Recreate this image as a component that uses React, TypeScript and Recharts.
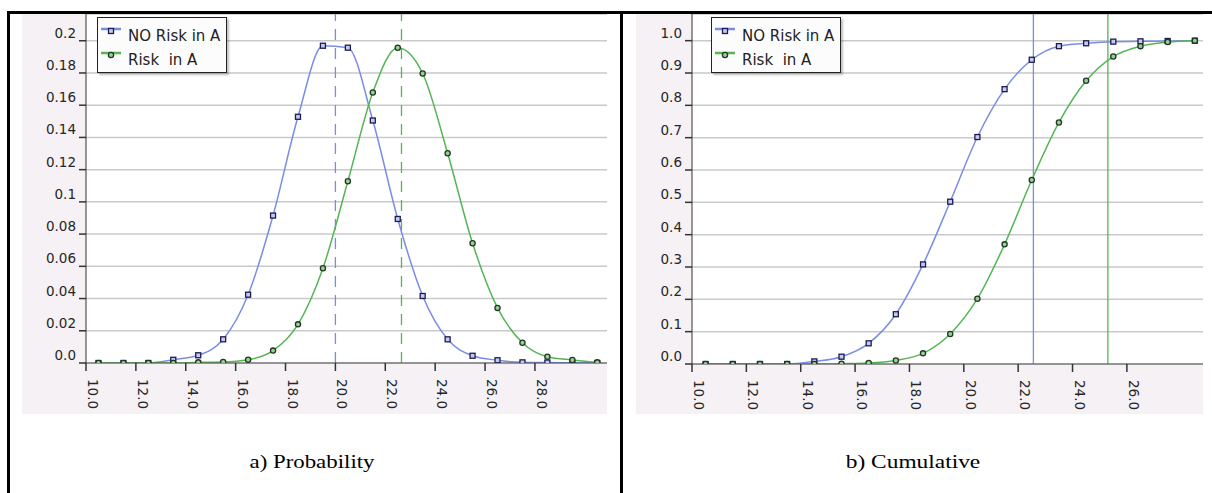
import React from 'react';
import {
  LineChart, Line, XAxis, YAxis, CartesianGrid, ReferenceLine, Legend,
} from 'recharts';

// a) probability per bucket
const probX = [10.5, 11.5, 12.5, 13.5, 14.5, 15.5, 16.5, 17.5, 18.5, 19.5, 20.5, 21.5, 22.5, 23.5, 24.5, 25.5, 26.5, 27.5, 28.5, 29.5, 30.5];
const probNoRisk = [0, 0, 0, 0.002, 0.0048, 0.0147, 0.0424, 0.0915, 0.1528, 0.1969, 0.1957, 0.1505, 0.0894, 0.0416, 0.0147, 0.0045, 0.0017, 0.0004, 0.0003, 0.0001, 0];
const probRisk = [0, 0, 0, 0, 0.0004, 0.0006, 0.002, 0.0077, 0.024, 0.0588, 0.1128, 0.1679, 0.1957, 0.1797, 0.1302, 0.0743, 0.0342, 0.0126, 0.0039, 0.0019, 0.0004];
const probMarks = [20.0, 22.65];

// b) cumulative
const cumX = [10.5, 11.5, 12.5, 13.5, 14.5, 15.5, 16.5, 17.5, 18.5, 19.5, 20.5, 21.5, 22.5, 23.5, 24.5, 25.5, 26.5, 27.5, 28.5];
const cumNoRisk = [0, 0, 0, 0, 0.008, 0.0226, 0.064, 0.154, 0.308, 0.502, 0.702, 0.85, 0.941, 0.983, 0.992, 0.997, 0.998, 0.999, 1.0];
const cumRisk = [0, 0, 0, 0, 0, 0.001, 0.003, 0.011, 0.033, 0.093, 0.202, 0.37, 0.569, 0.747, 0.876, 0.951, 0.983, 0.996, 1.0];
const cumMarks = [22.56, 25.3];

// ticks
const probXTicks = [10, 12, 14, 16, 18, 20, 22, 24, 26, 28];
const probXLabels = ['10.0', '12.0', '14.0', '16.0', '18.0', '20.0', '22.0', '24.0', '26.0', '28.0'];
const probYTicks = [0, 0.02, 0.04, 0.06, 0.08, 0.1, 0.12, 0.14, 0.16, 0.18, 0.2];
const probYLabels = ['0.0', '0.02', '0.04', '0.06', '0.08', '0.1', '0.12', '0.14', '0.16', '0.18', '0.2'];
const cumXTicks = [10, 12, 14, 16, 18, 20, 22, 24, 26];
const cumXLabels = ['10.0', '12.0', '14.0', '16.0', '18.0', '20.0', '22.0', '24.0', '26.0'];
const cumYTicks = [0, 0.1, 0.2, 0.3, 0.4, 0.5, 0.6, 0.7, 0.8, 0.9, 1.0];
const cumYLabels = ['0.0', '0.1', '0.2', '0.3', '0.4', '0.5', '0.6', '0.7', '0.8', '0.9', '1.0'];

const seriesNames = ['NO Risk in A', 'Risk  in A'];
const captions = ['a) Probability', 'b) Cumulative'];

const BLUE = '#7b8ce6';
const GREEN = '#55b555';
const PANEL_BG = '#f5f1f5';
const FONT = '"DejaVu Sans", Verdana, sans-serif';
const TICK_COLOR = '#262626';

const SquareDot = (props: any) => {
  const { cx, cy } = props;
  if (cx == null || cy == null) return null;
  return <rect x={cx - 2.5} y={cy - 2.5} width={5} height={5} fill="#c4caf2" stroke="#1c1c4e" strokeWidth={1.3} />;
};

const RoundDot = (props: any) => {
  const { cx, cy } = props;
  if (cx == null || cy == null) return null;
  return <circle cx={cx} cy={cy} r={2.6} fill="#9ccc9c" stroke="#1e3a1e" strokeWidth={1.3} />;
};

const XTick = (props: any) => {
  const { x, y, payload, ticks, labels } = props;
  const label = labels[ticks.indexOf(payload.value)];
  return (
    <g transform={`translate(${x},${y})`}>
      <text transform="rotate(90)" x={6} y={-2} fill={TICK_COLOR} fontSize={13.5} fontFamily={FONT} textAnchor="start">
        {label}
      </text>
    </g>
  );
};

const YTick = (props: any) => {
  const { x, y, payload, ticks, labels } = props;
  const label = labels[ticks.indexOf(payload.value)];
  return (
    <text x={x - 1} y={y - 3} fill={TICK_COLOR} fontSize={13.5} fontFamily={FONT} textAnchor="end">
      {label}
    </text>
  );
};

const LegendBox = () => (
  <div style={{
    width: 130, height: 56, boxSizing: 'border-box', border: '1px solid #222',
    background: '#fcfcfc', boxShadow: '2px 2px 2px rgba(0,0,0,0.25)',
  }}>
    <svg width={128} height={54} style={{ display: 'block' }}>
      <line x1={3} y1={11} x2={23} y2={11} stroke={BLUE} strokeWidth={2.5} />
      <SquareDot cx={13} cy={13} />
      <text x={30} y={23} fontSize={15} fontFamily={FONT} fill="#222" style={{ whiteSpace: 'pre' }}>{seriesNames[0]}</text>
      <line x1={3} y1={35} x2={23} y2={35} stroke={GREEN} strokeWidth={2.5} />
      <RoundDot cx={13} cy={37} />
      <text x={30} y={47} fontSize={15} fontFamily={FONT} fill="#222" style={{ whiteSpace: 'pre' }}>{seriesNames[1]}</text>
    </svg>
  </div>
);

interface PanelProps {
  left: number;
  width: number;
  yAxisWidth: number;
  xAxisHeight: number;
  xs: number[];
  a: number[];
  b: number[];
  xDomain: [number, number];
  yDomain: [number, number];
  xTicks: number[];
  xLabels: string[];
  yTicks: number[];
  yLabels: string[];
  marks: number[];
  dashed: boolean;
}

const Panel: React.FC<PanelProps> = (p) => {
  const data = p.xs.map((x, i) => ({ x, noRisk: p.a[i], risk: p.b[i] }));
  return (
    <div style={{ position: 'absolute', left: p.left, top: 14, width: p.width, height: 400, background: PANEL_BG }}>
      <LineChart width={p.width} height={400} data={data} margin={{ top: 0, right: 0, bottom: 0, left: 0 }}>
        <CartesianGrid vertical={false} fill="#ffffff" stroke="#c9c9c9" strokeWidth={1.5} />
        <XAxis
          type="number"
          dataKey="x"
          domain={p.xDomain}
          allowDataOverflow
          ticks={p.xTicks}
          interval={0}
          height={p.xAxisHeight}
          tickSize={8}
          tickMargin={2}
          axisLine={{ stroke: '#555' }}
          tickLine={{ stroke: '#333', strokeWidth: 1.5 }}
          tick={<XTick ticks={p.xTicks} labels={p.xLabels} />}
        />
        <YAxis
          type="number"
          domain={p.yDomain}
          allowDataOverflow
          ticks={p.yTicks}
          interval={0}
          width={p.yAxisWidth}
          tickSize={7}
          tickMargin={2}
          axisLine={{ stroke: '#333' }}
          tickLine={{ stroke: '#333', strokeWidth: 1.5 }}
          tick={<YTick ticks={p.yTicks} labels={p.yLabels} />}
        />
        <ReferenceLine x={p.marks[0]} stroke={BLUE} strokeWidth={1.3} strokeDasharray={p.dashed ? '11 8' : undefined} />
        <ReferenceLine x={p.marks[1]} stroke={GREEN} strokeWidth={1.3} strokeDasharray={p.dashed ? '11 8' : undefined} />
        <Line type="monotone" dataKey="noRisk" name={seriesNames[0]} stroke={BLUE} strokeWidth={1.5} dot={<SquareDot />} activeDot={false} isAnimationActive={false} />
        <Line type="monotone" dataKey="risk" name={seriesNames[1]} stroke={GREEN} strokeWidth={1.5} dot={<RoundDot />} activeDot={false} isAnimationActive={false} />
        <Legend
          layout="horizontal"
          verticalAlign="middle"
          align="center"
          content={<LegendBox />}
          wrapperStyle={{ position: 'absolute', top: 3, left: 75, width: 'auto', height: 'auto' }}
        />
      </LineChart>
    </div>
  );
};

export default function App() {
  return (
    <div style={{ position: 'absolute', left: 0, top: 0, width: 1212, height: 493, background: '#fff', overflow: 'hidden' }}>
      <Panel
        left={22} width={585} yAxisWidth={64} xAxisHeight={51}
        xs={probX} a={probNoRisk} b={probRisk}
        xDomain={[10, 30.89]} yDomain={[0, 0.2166]}
        xTicks={probXTicks} xLabels={probXLabels} yTicks={probYTicks} yLabels={probYLabels}
        marks={probMarks} dashed
      />
      <Panel
        left={636} width={567} yAxisWidth={56} xAxisHeight={50}
        xs={cumX} a={cumNoRisk} b={cumRisk}
        xDomain={[10, 28.8]} yDomain={[0, 1.0825]}
        xTicks={cumXTicks} xLabels={cumXLabels} yTicks={cumYTicks} yLabels={cumYLabels}
        marks={cumMarks} dashed={false}
      />
      <svg width={1212} height={493} style={{ position: 'absolute', left: 0, top: 0, pointerEvents: 'none' }}>
        <rect x={7} y={11} width={1205} height={3} fill="#000" />
        <rect x={7} y={11} width={3} height={482} fill="#000" />
        <rect x={620} y={11} width={3} height={482} fill="#000" />
        <text transform="translate(312,468) scale(1.27,1)" textAnchor="middle" fontSize={18} fontFamily='"Liberation Serif", "Times New Roman", serif' fill="#000">{captions[0]}</text>
        <text transform="translate(913,468) scale(1.3,1)" textAnchor="middle" fontSize={18} fontFamily='"Liberation Serif", "Times New Roman", serif' fill="#000">{captions[1]}</text>
      </svg>
    </div>
  );
}
